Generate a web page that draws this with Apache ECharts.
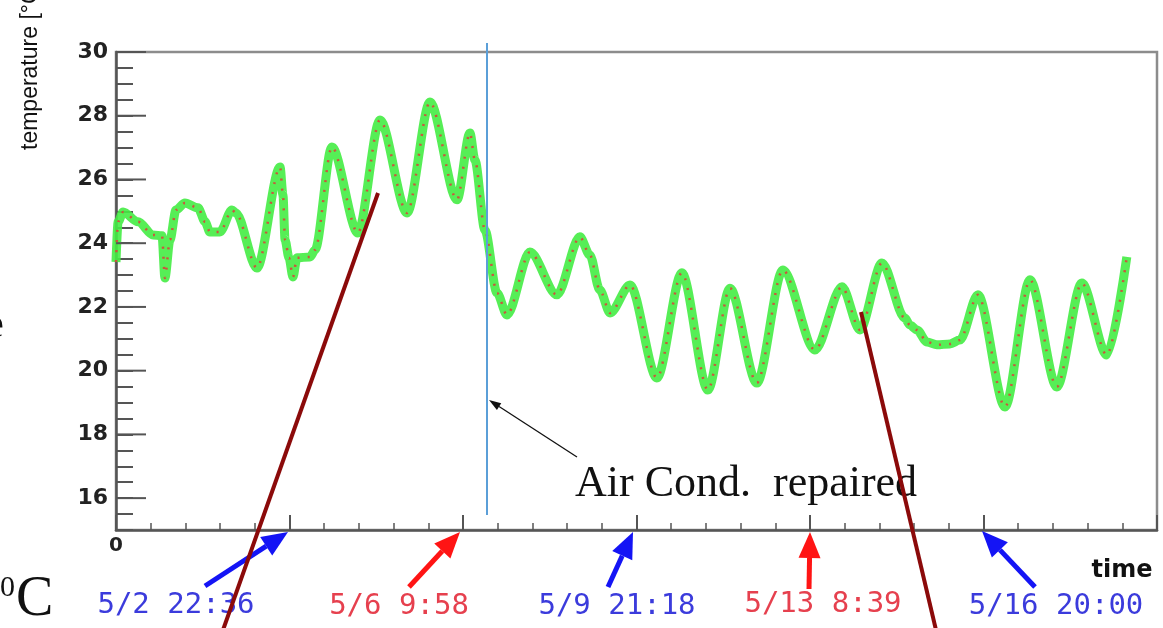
<!DOCTYPE html>
<html>
<head>
<meta charset="utf-8">
<title>Temperature log</title>
<script src="https://cdn.jsdelivr.net/npm/echarts@6/dist/echarts.min.js"></script>
<style>
  html, body { margin: 0; padding: 0; background: #fff; }
  #chart { width: 1163px; height: 628px; }
</style>
</head>
<body>
<div id="chart"></div>
<script>
// hours since start of log
const hours = [0, 1.0, 3.4, 10.6, 17.8, 22.1, 23.5, 25.9, 28.8, 33.1, 39.4, 42.8, 45.1, 49.9, 55.7, 57.6,
  67.7, 78.8, 80.2, 81.2, 83.1, 85.0, 86.9, 93.2, 95.6, 103.7, 116.2, 126.8, 139.8, 150.8, 163.8,
  170.0, 172.4, 177.2, 183.0, 187.8, 198.8, 211.8, 222.8, 227.6, 232.4, 237.3, 246.9, 259.8, 271.8,
  284.3, 294.9, 307.8, 320.3, 335.7, 348.7, 357.3, 367.9, 378.9, 381.3, 384.7, 389.5, 394.3, 400.5,
  405.3, 414.0, 427.0, 439.0, 451.9, 463.9, 475.9, 485.5]
// temperature [°C]
const temps = [23.41, 24.67, 24.98, 24.67, 24.26, 24.23, 22.91, 24.10, 25.04, 25.26, 25.11, 24.67, 24.35, 24.35, 25.04, 24.95,
  23.22, 26.39, 25.51, 24.10, 23.54, 22.94, 23.54, 23.57, 23.79, 27.02, 24.32, 27.87, 24.95, 28.43, 25.36,
  27.46, 26.61, 24.41, 22.44, 21.75, 23.72, 22.38, 24.20, 23.63, 22.53, 21.81, 22.69, 19.77, 23.07,
  19.39, 22.59, 19.61, 23.16, 20.65, 22.63, 21.28, 23.38, 21.65, 21.43, 21.28, 20.90, 20.81, 20.84,
  20.96, 22.38, 18.86, 22.85, 19.49, 22.75, 20.49, 23.57]

const yTickLabels = [16, 18, 20, 22, 24, 26, 28, 30]
const dateLabels = ['5/2 22:36', '5/6 9:58', '5/9 21:18', '5/13 8:39', '5/16 20:00']
const dateColors = ['#3b3bdc', '#e6404e', '#3b3bdc', '#e6404e', '#3b3bdc']
const arrowColors = ['#1414f5', '#ff1414', '#1414f5', '#ff1414', '#1414f5']

const points = hours.map((h, i) => [h * 3600, temps[i]])

// annotation layout (pixels)
const arrowGeom = [
  [205, 586, 288, 532],
  [409, 587, 460, 532],
  [608, 587, 633, 532],
  [809, 589, 810, 532],
  [1035, 587, 982, 531]
]
const labelPos = [[176, 605], [399, 606], [617, 606], [823, 604], [1056, 606]]

const arrow = (x1, y1, x2, y2, color, w, hl, hw) => {
  const len = Math.hypot(x2 - x1, y2 - y1)
  const ux = (x2 - x1) / len, uy = (y2 - y1) / len
  const bx = x2 - ux * hl, by = y2 - uy * hl
  const px = -uy * hw / 2, py = ux * hw / 2
  return [
    { type: 'line', z: 100, shape: { x1: x1, y1: y1, x2: bx, y2: by }, style: { stroke: color, lineWidth: w } },
    { type: 'polygon', z: 100, shape: { points: [[x2, y2], [bx + px, by + py], [bx - px, by - py]] }, style: { fill: color } }
  ]
}

const chart = echarts.init(document.getElementById('chart'))
chart.setOption({
  animation: false,
  backgroundColor: '#fff',
  grid: { left: 116, right: 6, top: 52, bottom: 98, show: true, borderColor: '#8c8c8c', borderWidth: 2.5 },
  xAxis: {
    type: 'value',
    min: 0,
    max: 1800000,
    interval: 300000,
    axisLine: { lineStyle: { color: '#555', width: 2.5 } },
    axisTick: { inside: true, length: 15, lineStyle: { color: '#555', width: 2 } },
    minorTick: { show: true, splitNumber: 5, length: 7, lineStyle: { color: '#555', width: 1.5 } },
    axisLabel: {
      formatter: v => (v === 0 ? '0' : ''),
      color: '#222', fontFamily: 'DejaVu Sans', fontWeight: 'bold', fontSize: 20, margin: 6
    },
    splitLine: { show: false },
    minorSplitLine: { show: false }
  },
  yAxis: {
    type: 'value',
    min: 15,
    max: 30,
    interval: 0.5,
    axisLine: { show: true, lineStyle: { color: '#555', width: 2.5 } },
    axisTick: { inside: true, length: 17, lineStyle: { color: '#555', width: 2 } },
    axisLabel: {
      customValues: yTickLabels,
      color: '#222', fontFamily: 'DejaVu Sans', fontWeight: 'bold', fontSize: 22, margin: 8
    },
    splitLine: { show: false }
  },
  series: [
    {
      name: 'green',
      type: 'line',
      data: points,
      symbol: 'none',
      smooth: 0.3,
      smoothMonotone: 'x',
      z: 2,
      lineStyle: { color: '#44ec44', width: 9, opacity: 0.9 }
    },
    {
      name: 'red',
      type: 'line',
      data: points,
      symbol: 'none',
      smooth: 0.3,
      smoothMonotone: 'x',
      z: 3,
      lineStyle: { color: '#e03a3a', width: 2.5, type: [2, 8], opacity: 0.85 }
    }
  ]
})

// overlays, placed after layout so the long ticks follow the axis scale
const graphics = []

const x0 = chart.convertToPixel({ xAxisIndex: 0 }, 0)
yTickLabels.forEach(v => {
  const y = chart.convertToPixel({ yAxisIndex: 0 }, v)
  graphics.push({ type: 'line', z: 50, shape: { x1: x0, y1: y, x2: x0 + 30, y2: y }, style: { stroke: '#555', lineWidth: 2 } })
})

arrowGeom.forEach((g, i) => {
  graphics.push(...arrow(g[0], g[1], g[2], g[3], arrowColors[i], 5, 26, 22))
  graphics.push({
    type: 'text', z: 100, x: labelPos[i][0], y: labelPos[i][1],
    style: { text: dateLabels[i], fill: dateColors[i], font: '29px "DejaVu Sans Mono"', align: 'center', verticalAlign: 'middle' }
  })
})

graphics.push(
  // Air con repair marker
  { type: 'line', z: 90, shape: { x1: 487, y1: 43, x2: 487, y2: 515 }, style: { stroke: '#5b9fd8', lineWidth: 2 } },
  ...arrow(577, 457, 489, 400, '#111', 1.3, 12, 8),
  { type: 'text', z: 100, x: 575, y: 484,
    style: { text: 'Air Cond.  repaired', fill: '#111', font: '44px "Liberation Serif"', align: 'left', verticalAlign: 'middle' } },
  // dark red pointer lines
  { type: 'line', z: 110, shape: { x1: 378, y1: 193, x2: 223, y2: 630 }, style: { stroke: '#8b0a0a', lineWidth: 4 } },
  { type: 'line', z: 110, shape: { x1: 861, y1: 312, x2: 936, y2: 630 }, style: { stroke: '#8b0a0a', lineWidth: 4 } },
  // axis titles
  { type: 'text', z: 100, x: 31, y: 150, rotation: Math.PI / 2,
    style: { text: 'temperature [°C]', fill: '#111', font: '23px "Liberation Sans"', align: 'left', verticalAlign: 'middle' } },
  { type: 'text', z: 100, x: 1122, y: 571,
    style: { text: 'time', fill: '#111', font: 'bold 24px "DejaVu Sans"', align: 'center', verticalAlign: 'middle' } },
  // cut-off text at left edge
  { type: 'text', z: 100, x: -14, y: 326,
    style: { text: 'e', fill: '#111', font: '40px "Liberation Serif"', align: 'left', verticalAlign: 'middle' } },
  { type: 'text', z: 100, x: 0, y: 588,
    style: { text: '0', fill: '#111', font: '30px "Liberation Serif"', align: 'left', verticalAlign: 'middle' } },
  { type: 'text', z: 100, x: 16, y: 600,
    style: { text: 'C', fill: '#111', font: '56px "Liberation Serif"', align: 'left', verticalAlign: 'middle' } }
)

chart.setOption({ graphic: graphics })
</script>
</body>
</html>
